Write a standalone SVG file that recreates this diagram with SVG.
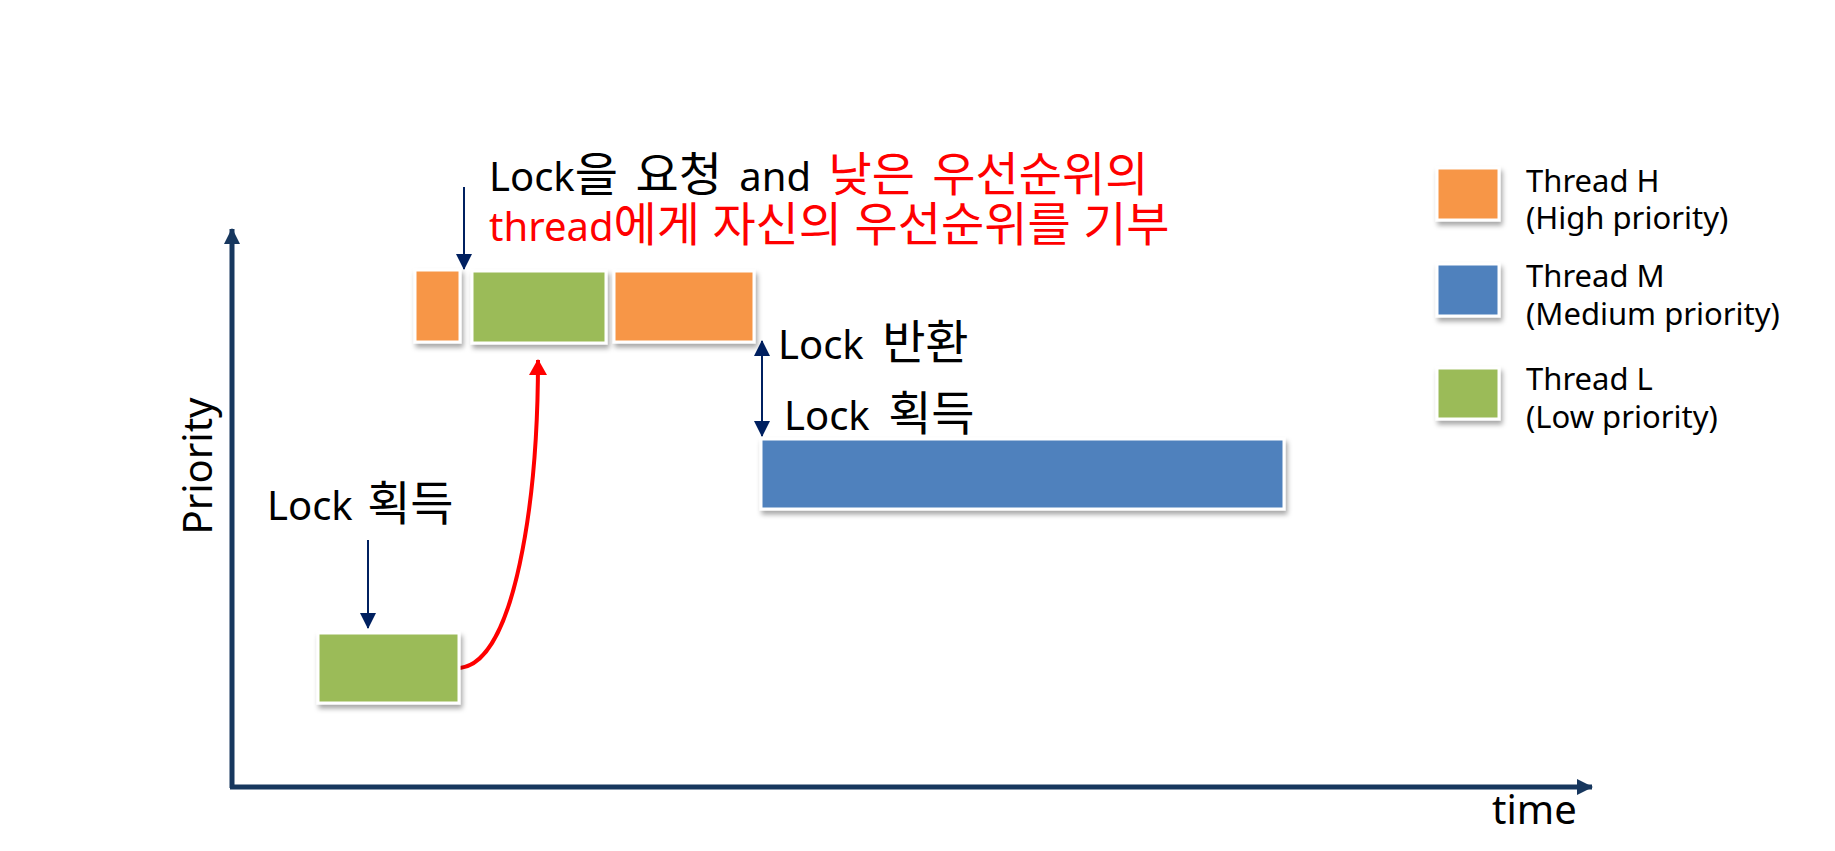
<svg xmlns="http://www.w3.org/2000/svg" width="1835" height="851" viewBox="0 0 1835 851">
<style>
  text { font-family: "Noto Sans", "Noto Sans CJK KR", sans-serif; fill: #000; }
  .lbl { font-size: 40px; }
  .ko { font-family: "Noto Sans CJK KR", sans-serif; font-size: 47px; }
  .leg { font-size: 31px; }
  .red { fill: #FF0000; }
  .box { stroke: #FFFFFF; stroke-width: 3; filter: url(#shadow); }
  .h { fill: #F79646; }
  .m { fill: #4F81BD; }
  .l { fill: #9BBB59; }
  .axis { stroke: #17375E; stroke-width: 5; fill: none; }
  .nav { stroke: #002060; stroke-width: 2; fill: none; }
</style>
<defs>
  <filter id="shadow" x="-20%" y="-20%" width="140%" height="150%">
    <feDropShadow dx="2" dy="4" stdDeviation="2.5" flood-color="#000" flood-opacity="0.35"/>
  </filter>
  <marker id="navHead" viewBox="0 0 16 16" refX="15" refY="8" markerWidth="16" markerHeight="16" markerUnits="userSpaceOnUse" orient="auto-start-reverse">
    <path d="M0,0 L16,8 L0,16 Z" fill="#002060"/>
  </marker>
  <marker id="axHead" viewBox="0 0 16 16" refX="15" refY="8" markerWidth="16" markerHeight="16" markerUnits="userSpaceOnUse" orient="auto">
    <path d="M0,0 L16,8 L0,16 Z" fill="#17375E"/>
  </marker>
  <marker id="redHead" viewBox="0 0 16 18" refX="15" refY="9" markerWidth="16" markerHeight="18" markerUnits="userSpaceOnUse" orient="auto">
    <path d="M0,0 L16,9 L0,18 Z" fill="#FF0000"/>
  </marker>
</defs>

<g id="connectors">
  <path id="y-axis" class="axis" d="M232,788 L232,229" marker-end="url(#axHead)"/>
  <path id="x-axis" class="axis" d="M230,787 L1592,787" marker-end="url(#axHead)"/>
  <path id="arrow-lock-acquire-L" class="nav" d="M368,540 L368,628" marker-end="url(#navHead)"/>
  <path id="arrow-lock-request" class="nav" d="M464,187 L464,269" marker-end="url(#navHead)"/>
  <path id="arrow-lock-release" class="nav" d="M762,341 L762,436" marker-start="url(#navHead)" marker-end="url(#navHead)"/>
  <path id="arrow-inherit" d="M460,668 C515,662 538,500 538,360" stroke="#FF0000" stroke-width="4" fill="none" marker-end="url(#redHead)"/>
</g>

<g id="axis-labels">
  <text class="lbl" transform="translate(212,466) rotate(-90)" text-anchor="middle">Priority</text>
  <text class="lbl" x="1492" y="824">time</text>
</g>

<g id="thread-L-low"><rect class="box l" x="318" y="633" width="141" height="70"/></g>
<g id="thread-H-1"><rect class="box h" x="415" y="270" width="45" height="72"/></g>
<g id="thread-L-boosted"><rect class="box l" x="472" y="271" width="134" height="72"/></g>
<g id="thread-H-2"><rect class="box h" x="614" y="271" width="140" height="71"/></g>
<g id="thread-M"><rect class="box m" x="761" y="439" width="523" height="70"/></g>

<g id="label-lock-acquire-L"><text class="lbl" x="267" y="520" word-spacing="4">Lock <tspan class="ko">획득</tspan></text></g>
<g id="label-request">
  <text class="lbl" x="489" y="191" word-spacing="7">Lock<tspan class="ko">을</tspan> <tspan class="ko">요청</tspan> and <tspan class="ko red">낮은</tspan> <tspan class="ko red">우선순위의</tspan></text>
  <text class="lbl red" x="489" y="241" word-spacing="2">thread<tspan class="ko">에게</tspan> <tspan class="ko">자신의</tspan> <tspan class="ko">우선순위를</tspan> <tspan class="ko">기부</tspan></text>
</g>
<g id="label-release"><text class="lbl" x="778" y="359" word-spacing="8">Lock <tspan class="ko">반환</tspan></text></g>
<g id="label-acquire-M"><text class="lbl" x="784" y="430" word-spacing="8">Lock <tspan class="ko">획득</tspan></text></g>

<g id="legend-H">
  <rect class="box h" x="1437" y="168" width="62" height="52"/>
  <text class="leg" x="1526" y="192">Thread H</text>
  <text class="leg" x="1526" y="229">(High priority)</text>
</g>
<g id="legend-M">
  <rect class="box m" x="1437" y="264" width="62" height="52"/>
  <text class="leg" x="1526" y="287">Thread M</text>
  <text class="leg" x="1526" y="325">(Medium priority)</text>
</g>
<g id="legend-L">
  <rect class="box l" x="1437" y="368" width="62" height="51"/>
  <text class="leg" x="1526" y="390">Thread L</text>
  <text class="leg" x="1526" y="428">(Low priority)</text>
</g>
</svg>
